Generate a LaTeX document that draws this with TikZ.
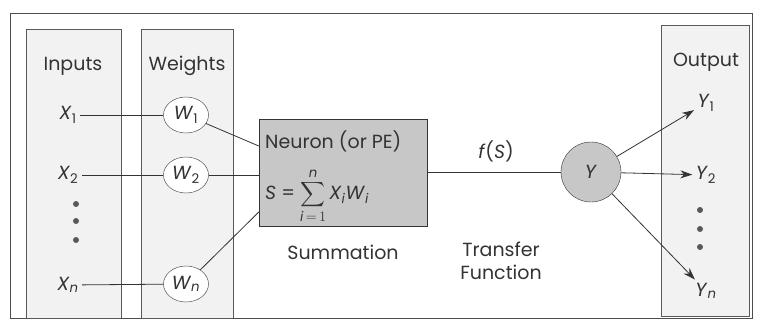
\documentclass[tikz,border=0pt]{standalone}
\usepackage{fontspec}
\setmainfont{Poppins}
\usepackage{amsmath}
\usetikzlibrary{arrows.meta, positioning, shapes.geometric}

\tikzset{
  panel/.style={draw=black!65, fill=black!5},
  wt/.style={ellipse, draw=black!80, fill=white, minimum width=45pt, minimum height=36pt, inner sep=0pt},
  lbl/.style={font=\fontsize{19}{23}\selectfont, text=black!80},
  wire/.style={black!80, thick},
  outarrow/.style={wire, -{Stealth[length=12pt, width=8pt]}},
  dot/.style={circle, fill=black!65, inner sep=0pt, minimum size=6pt},
}
\newcommand{\var}[2]{\textit{#1}\textsubscript{#2}}

\begin{document}
\begin{tikzpicture}[x=1pt, y=-1pt]
    \useasboundingbox (0,0) rectangle (760,329);
    \draw[black!70] (10,13) rectangle (752,318);

    % panels
    \draw[panel] (26,29) rectangle (121,318);
    \draw[panel] (141,29) rectangle (233,318);
    \draw[panel] (661,25) rectangle (749,316);

    \node[lbl] (inp) at (73,66) {Inputs};
    \node[lbl] (wts) at (187,66) {Weights};
    \node[lbl] (out) at (706,62) {Output};

    % inputs and weights
    \node[lbl] (x1) at (68,115) {\var{X}{1}};
    \node[lbl] (x2) at (68,175) {\var{X}{2}};
    \node[lbl] (xn) at (68,285) {\var{X}{\textit{n}}};
    \foreach \y in {204,221,240} \node[dot] at (76,\y) {};

    \node[wt, lbl] (w1) at (186,115) {\var{W}{1}};
    \node[wt, lbl] (w2) at (186,175) {\var{W}{2}};
    \node[wt, lbl] (wn) at (186,284) {\var{W}{\textit{n}}};

    \draw[wire] (x1) -- (w1);
    \draw[wire] (x2) -- (w2);
    \draw[wire] (xn) -- (wn);

    % neuron
    \node[draw=black!80, fill=black!22, minimum width=168pt, minimum height=107pt, inner sep=0pt] (neuron) at (343,173) {};
    \node[lbl, anchor=west, inner sep=1pt] (ntitle) at (264,141) {Neuron (or PE)};
    \node[lbl, anchor=west, inner sep=1pt] (nsum) at (264,196) {\textit{S} = $\displaystyle\sum_{\text{\itshape i}\,=\,1}^{\text{\itshape n}}$\,\var{X}{\textit{i}}\var{W}{\textit{i}}};
    \node[lbl] (summ) at (343,252) {Summation};

    \draw[wire] (w1) -- (neuron.west |- 0,146);
    \draw[wire] (w2) -- (neuron.west |- w2);
    \draw[wire] (wn) -- (neuron.west |- 0,212);

    % transfer
    \node[circle, draw=black!80, fill=black!22, minimum size=60pt, inner sep=0pt, lbl] (y) at (591,172) {\textit{Y}};
    \draw[wire] (neuron.east |- y) -- (y);
    \node[lbl] (fs) at (496,151) {\textit{f}(\textit{S})};
    \node[lbl, align=center] (tf) at (501,261) {Transfer\\Function};

    % outputs
    \node[lbl] (y1) at (706,103) {\var{Y}{1}};
    \node[lbl] (y2) at (706,175) {\var{Y}{2}};
    \node[lbl] (yn) at (706,291) {\var{Y}{\textit{n}}};
    \foreach \y in {210,229,247} \node[dot] at (700,\y) {};

    \draw[outarrow] (y) -- (y1);
    \draw[outarrow] (y) -- (y2);
    \draw[outarrow] (y) -- (yn);
\end{tikzpicture}
\end{document}
